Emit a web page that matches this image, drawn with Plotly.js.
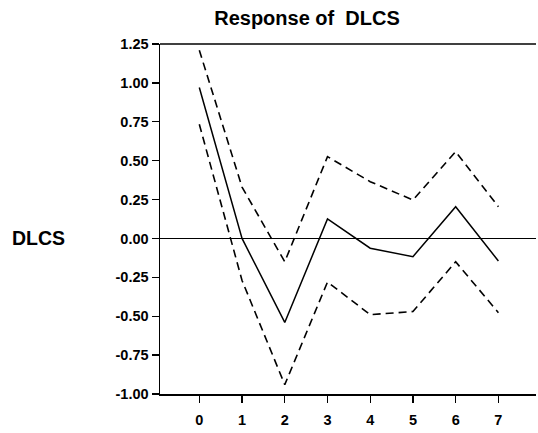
<!DOCTYPE html>
<html>
<head>
<meta charset="utf-8">
<script src="https://cdn.plot.ly/plotly-3.0.1.min.js"></script>
<style>html,body{margin:0;padding:0;background:#fff;}#chart{width:538px;height:433px;}</style>
</head>
<body>
<div id="chart"></div>
<script>
var periods = [0, 1, 2, 3, 4, 5, 6, 7];
var response = [0.97, 0.00, -0.54, 0.125, -0.063, -0.117, 0.204, -0.145];
var upperBand = [1.21, 0.33, -0.15, 0.526, 0.365, 0.247, 0.558, 0.204];
var lowerBand = [0.734, -0.27, -0.94, -0.28, -0.49, -0.47, -0.15, -0.477];
var yTickVals = [1.25, 1.00, 0.75, 0.50, 0.25, 0.00, -0.25, -0.50, -0.75, -1.00];
var yTickText = ["1.25", "1.00", "0.75", "0.50", "0.25", "0.00", "-0.25", "-0.50", "-0.75", "-1.00"];
var xTickText = ["0", "1", "2", "3", "4", "5", "6", "7"];

var font = "Liberation Sans, Arial, sans-serif";
var tickFont = {family: font, size: 14.5, color: "#000", weight: "bold"};
var traces = [
  {x: periods, y: upperBand, mode: "lines", line: {color: "#000", width: 1.6, dash: "8px,5px"}, hoverinfo: "skip"},
  {x: periods, y: response, mode: "lines", line: {color: "#000", width: 1.5}, hoverinfo: "skip"},
  {x: periods, y: lowerBand, mode: "lines", line: {color: "#000", width: 1.6, dash: "8px,5px"}, hoverinfo: "skip"}
];
var layout = {
  width: 538, height: 433,
  margin: {l: 160, r: 2, t: 44, b: 39},
  paper_bgcolor: "#fff", plot_bgcolor: "#fff",
  showlegend: false,
  font: {family: font, color: "#000", size: 15},
  title: {text: "<b>Response of  DLCS</b>", font: {family: font, size: 20, color: "#000"}, x: 307/538, xanchor: "center", y: 1 - 18/433, yanchor: "middle"},
  xaxis: {
    range: [-0.92, 7.88], tickvals: periods, ticktext: xTickText,
    showgrid: false, zeroline: false, showline: true, linecolor: "#000", linewidth: 1.5,
    ticks: "outside", ticklen: 7, tickwidth: 1.3, tickcolor: "#000",
    ticklabelstandoff: 5,
    tickfont: tickFont, mirror: false
  },
  yaxis: {
    range: [-1.0, 1.25], tickvals: yTickVals, ticktext: yTickText,
    showgrid: false, zeroline: true, zerolinecolor: "#000", zerolinewidth: 1,
    showline: true, linecolor: "#000", linewidth: 1.5,
    ticks: "outside", ticklen: 7, tickwidth: 1.3, tickcolor: "#000",
    tickfont: tickFont
  },
  shapes: [
    {type: "line", xref: "paper", yref: "paper", x0: 0, x1: 1, y0: 1, y1: 1, line: {color: "#000", width: 1.5}}
  ],
  annotations: [
    {text: "<b>DLCS</b>", xref: "paper", yref: "y", x: (38.5 - 160) / 376, y: 0, xanchor: "center", yanchor: "middle", showarrow: false, font: {family: font, size: 19.5, color: "#000"}}
  ]
};
Plotly.newPlot("chart", traces, layout, {staticPlot: true, displayModeBar: false});
</script>
</body>
</html>
